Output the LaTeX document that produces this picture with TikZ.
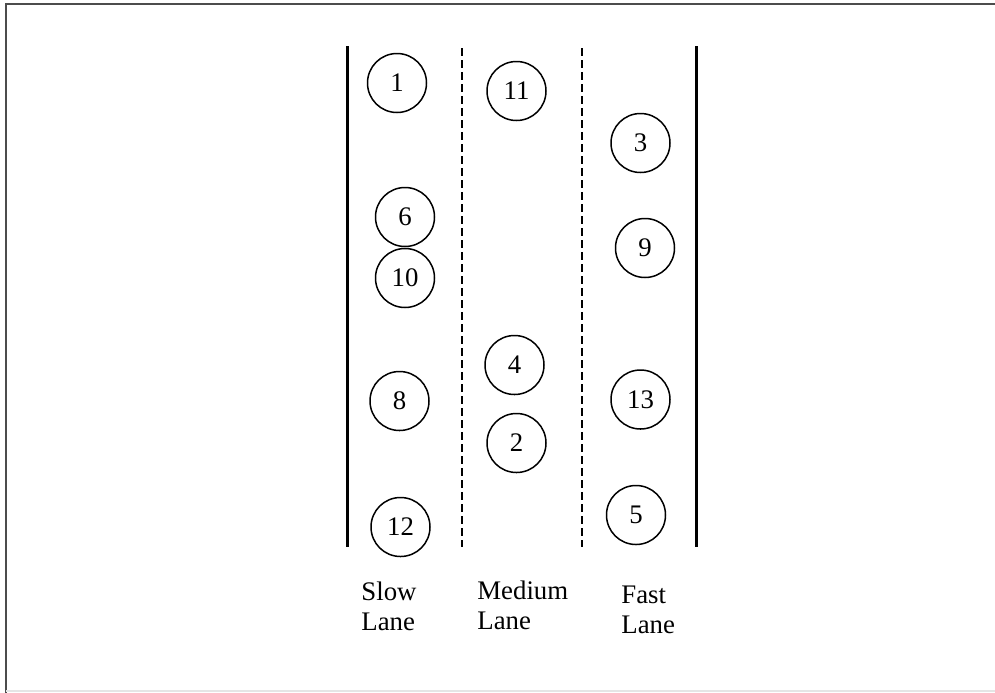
\documentclass[tikz,border=0pt]{standalone}
\usepackage{fontspec}
\setmainfont{Liberation Serif}
\begin{document}
\begin{tikzpicture}[x=0.5pt,y=-0.5pt,
  car/.style={draw, circle, line width=0.75pt, minimum size=29.5pt, inner sep=0pt, font=\fontsize{13.4}{15}\selectfont},
  edge/.style={line width=1.5pt},
  lanemark/.style={line width=0.75pt, dash pattern=on 3.8pt off 2.2pt},
  lbl/.style={anchor=north west, inner sep=0pt, align=left, font=\fontsize{13.4}{15}\selectfont}]
\useasboundingbox (0,0) rectangle (995,692);
% frame
\draw[line width=1.2pt, black!70] (6,700) -- (6,4) -- (1000,4);
\draw[line width=0.6pt, black!10] (6,691) -- (995,691);
% lane boundaries
\coordinate (l1) at (347,46); \coordinate (l2) at (347,547);
\coordinate (d1) at (462,48); \coordinate (d2) at (462,547);
\coordinate (e1) at (582,48); \coordinate (e2) at (582,547);
\coordinate (r1) at (696,46); \coordinate (r2) at (696,547);
\draw[edge] (l1) -- (l2);
\draw[edge] (r1) -- (r2);
\draw[lanemark] (d1) -- (d2);
\draw[lanemark] (e1) -- (e2);
% cars
\node[car] (c1) at (397,83) {1};
\node[car] (c11) at (516.5,91) {11};
\node[car] (c3) at (640.5,143) {3};
\node[car] (c6) at (405,217) {6};
\node[car] (c10) at (405,278) {10};
\node[car] (c9) at (645,248) {9};
\node[car] (c4) at (514.5,365) {4};
\node[car] (c8) at (399.5,401) {8};
\node[car] (c13) at (640.5,399.5) {13};
\node[car] (c2) at (516.5,443) {2};
\node[car] (c12) at (400.5,527) {12};
\node[car] (c5) at (636,515) {5};
% labels
\node[lbl] (slow) at (361,581) {Slow\\Lane};
\node[lbl] (medium) at (477,580) {Medium\\Lane};
\node[lbl] (fast) at (621,586) {Fast\\Lane};
\end{tikzpicture}
\end{document}
